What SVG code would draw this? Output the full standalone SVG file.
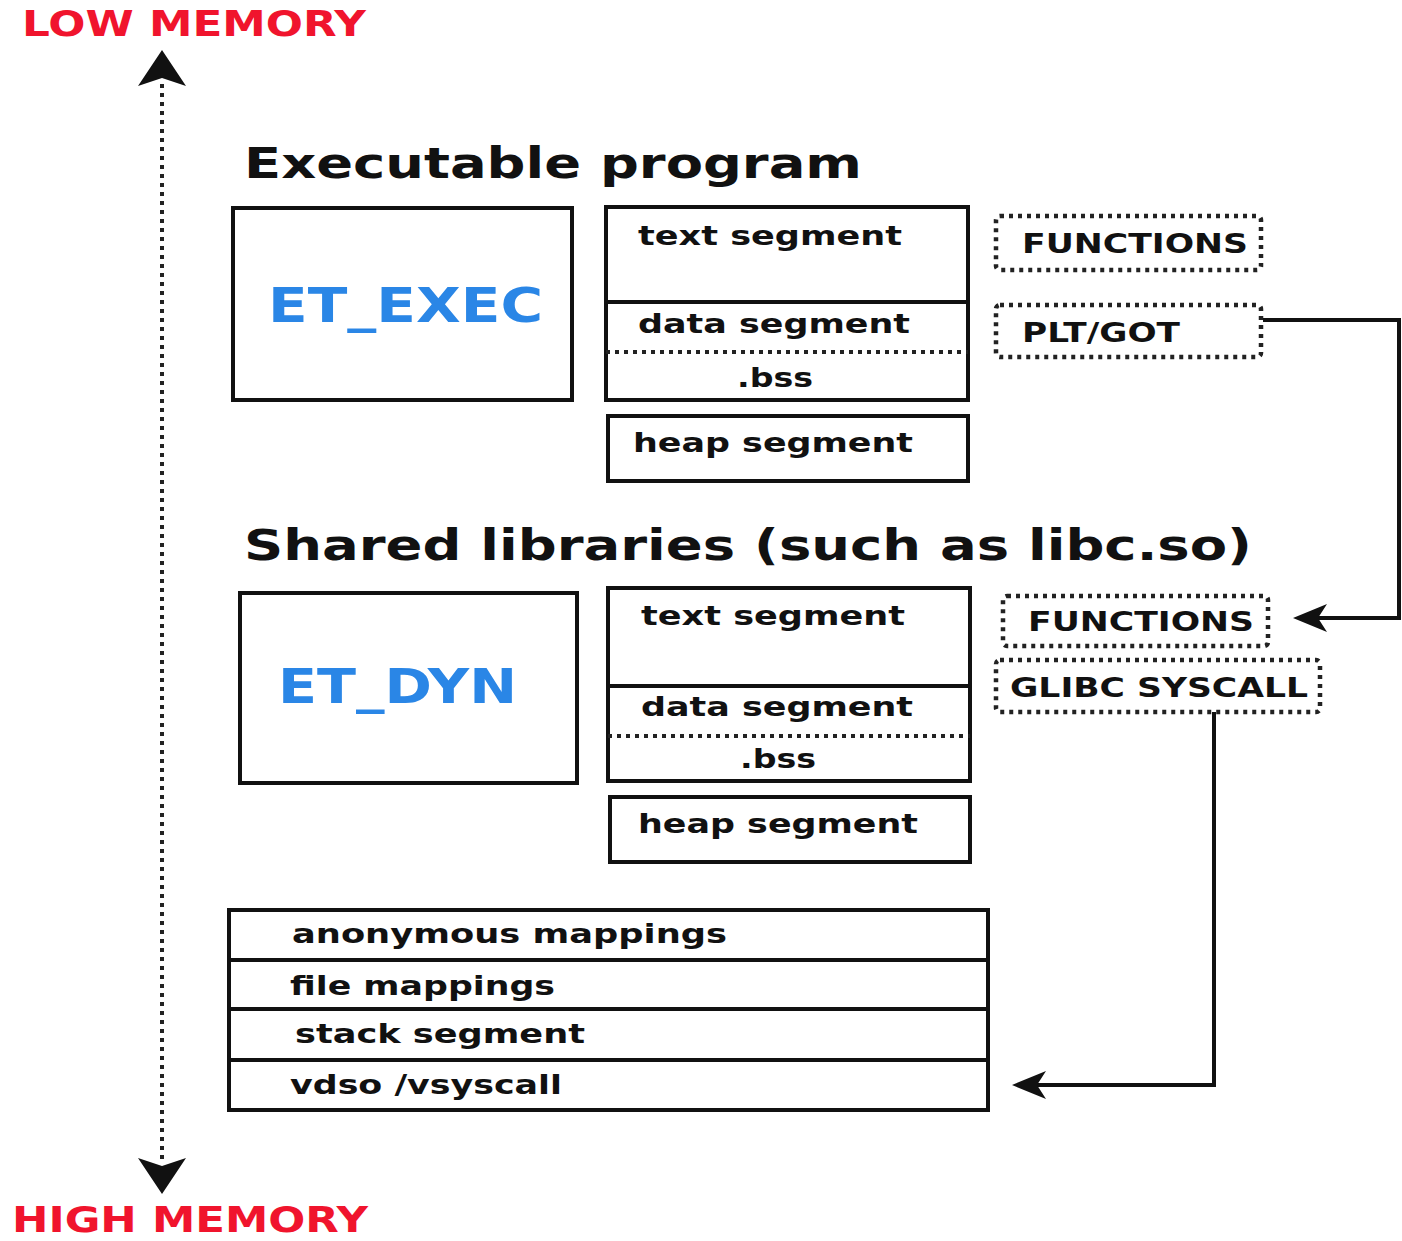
<svg xmlns="http://www.w3.org/2000/svg" width="1402" height="1241" viewBox="0 0 1402 1241">
<style>
text{font-family:"DejaVu Sans","Verdana",sans-serif;font-weight:bold;fill:#111}
.red{fill:#f0142d;font-size:35px}
.title{font-size:42px}
.et{fill:#2a86e6;font-size:48px}
.seg{font-size:27px}
.dlab{font-size:27px}
.box{fill:none;stroke:#111;stroke-width:4}
.dotbox{fill:none;stroke:#222;stroke-width:4.5;stroke-dasharray:4 5}
.dotline{fill:none;stroke:#222;stroke-width:4;stroke-dasharray:4 5}
.conn{fill:none;stroke:#111;stroke-width:4}
.head{fill:#111}
</style>
<rect width="1402" height="1241" fill="#ffffff"/>

<g id="axis">
<text class="red" x="22" y="36" textLength="344" lengthAdjust="spacingAndGlyphs">LOW MEMORY</text>
<text class="red" x="12" y="1232" textLength="356" lengthAdjust="spacingAndGlyphs">HIGH MEMORY</text>
<line class="dotline" x1="162" y1="84" x2="162" y2="1160" stroke-width="5" stroke-dasharray="4 6"/>
<path class="head" d="M162,50 L186,86 L162,78 L138,86 Z"/>
<path class="head" d="M162,1194 L186,1158 L162,1166 L138,1158 Z"/>
</g>

<g id="exec-title">
<text class="title" x="244" y="178" textLength="618" lengthAdjust="spacingAndGlyphs">Executable program</text>
</g>

<g id="et-exec">
<rect class="box" x="233" y="208" width="339" height="192"/>
<text class="et" x="268" y="322" textLength="275" lengthAdjust="spacingAndGlyphs">ET_EXEC</text>
</g>

<g id="exec-segments">
<rect class="box" x="606" y="207" width="362" height="193"/>
<line class="box" x1="606" y1="302" x2="968" y2="302"/>
<line class="dotline" x1="606" y1="352" x2="968" y2="352"/>
<text class="seg" x="638" y="245" textLength="264" lengthAdjust="spacingAndGlyphs">text segment</text>
<text class="seg" x="638" y="333" textLength="272" lengthAdjust="spacingAndGlyphs">data segment</text>
<text class="seg" x="737" y="387" textLength="76" lengthAdjust="spacingAndGlyphs">.bss</text>
</g>

<g id="exec-heap">
<rect class="box" x="608" y="416" width="360" height="65"/>
<text class="seg" x="633" y="452" textLength="280" lengthAdjust="spacingAndGlyphs">heap segment</text>
</g>

<g id="exec-functions">
<rect class="dotbox" x="996" y="216" width="265" height="54" rx="4"/>
<text class="dlab" x="1022" y="253" textLength="226" lengthAdjust="spacingAndGlyphs">FUNCTIONS</text>
</g>

<g id="plt-got">
<rect class="dotbox" x="996" y="305" width="265" height="52" rx="4"/>
<text class="dlab" x="1022" y="342" textLength="158" lengthAdjust="spacingAndGlyphs">PLT/GOT</text>
</g>

<g id="shared-title">
<text class="title" x="244" y="560" textLength="1008" lengthAdjust="spacingAndGlyphs">Shared libraries (such as libc.so)</text>
</g>

<g id="et-dyn">
<rect class="box" x="240" y="593" width="337" height="190"/>
<text class="et" x="278" y="703" textLength="239" lengthAdjust="spacingAndGlyphs">ET_DYN</text>
</g>

<g id="dyn-segments">
<rect class="box" x="608" y="588" width="362" height="193"/>
<line class="box" x1="608" y1="686" x2="970" y2="686"/>
<line class="dotline" x1="608" y1="736" x2="970" y2="736"/>
<text class="seg" x="641" y="625" textLength="264" lengthAdjust="spacingAndGlyphs">text segment</text>
<text class="seg" x="641" y="716" textLength="272" lengthAdjust="spacingAndGlyphs">data segment</text>
<text class="seg" x="740" y="768" textLength="76" lengthAdjust="spacingAndGlyphs">.bss</text>
</g>

<g id="dyn-heap">
<rect class="box" x="610" y="797" width="360" height="65"/>
<text class="seg" x="638" y="833" textLength="280" lengthAdjust="spacingAndGlyphs">heap segment</text>
</g>

<g id="dyn-functions">
<rect class="dotbox" x="1003" y="596" width="265" height="50" rx="4"/>
<text class="dlab" x="1028" y="631" textLength="226" lengthAdjust="spacingAndGlyphs">FUNCTIONS</text>
</g>

<g id="glibc-syscall">
<rect class="dotbox" x="996" y="660" width="324" height="52" rx="4"/>
<text class="dlab" x="1010" y="697" textLength="298" lengthAdjust="spacingAndGlyphs">GLIBC SYSCALL</text>
</g>

<g id="mappings">
<rect class="box" x="229" y="910" width="759" height="200"/>
<line class="box" x1="229" y1="960" x2="988" y2="960"/>
<line class="box" x1="229" y1="1009" x2="988" y2="1009"/>
<line class="box" x1="229" y1="1060" x2="988" y2="1060"/>
<text class="seg" x="292" y="943" textLength="435" lengthAdjust="spacingAndGlyphs">anonymous mappings</text>
<text class="seg" x="290" y="995" textLength="265" lengthAdjust="spacingAndGlyphs">file mappings</text>
<text class="seg" x="295" y="1043" textLength="290" lengthAdjust="spacingAndGlyphs">stack segment</text>
<text class="seg" x="290" y="1094" textLength="272" lengthAdjust="spacingAndGlyphs">vdso /vsyscall</text>
</g>

<g id="connectors">
<path class="conn" d="M1263,320 L1399,320 L1399,618 L1318,618"/>
<path class="head" d="M1293,618 L1327,604 L1318,618 L1327,632 Z"/>
<path class="conn" d="M1214,712 L1214,1085 L1036,1085"/>
<path class="head" d="M1012,1085 L1046,1071 L1037,1085 L1046,1099 Z"/>
</g>
</svg>
